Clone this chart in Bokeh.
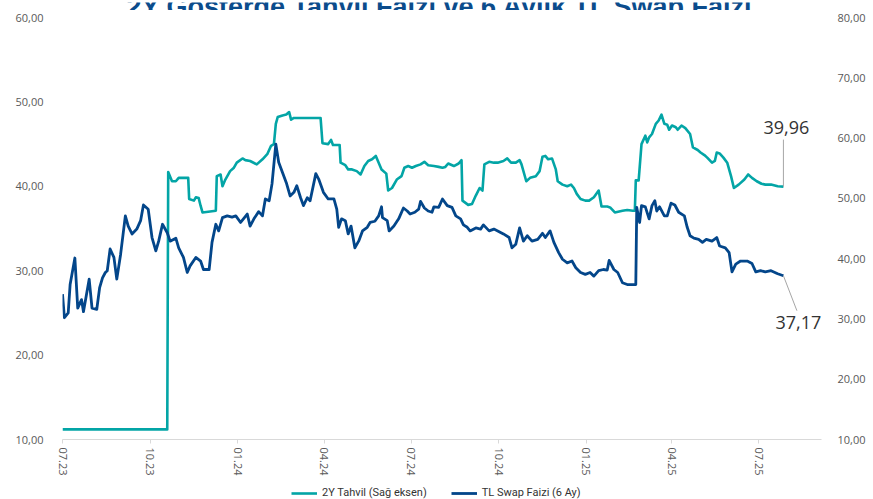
import pandas as pd
from bokeh.plotting import figure
from bokeh.layouts import column
from bokeh.models import (Range1d, LinearAxis, FixedTicker, CustomJSTickFormatter,
                          DatetimeTickFormatter, Label, Legend, LegendItem, ColumnDataSource)
from bokeh.embed import file_html
from bokeh.resources import INLINE

title_text = "2Y Gösterge Tahvil Faizi ve 6 Aylık TL Swap Faizi"
series_names = ["2Y Tahvil (Sağ eksen)", "TL Swap Faizi (6 Ay)"]

tahvil_dates = [
    "2023-07-01", "2023-10-19", "2023-10-20", "2023-10-24", "2023-10-28", "2023-10-31", "2023-11-10",
    "2023-11-11", "2023-11-16", "2023-11-18", "2023-11-21", "2023-11-23", "2023-11-25", "2023-12-09",
    "2023-12-10", "2023-12-14", "2023-12-16", "2023-12-19", "2023-12-24", "2023-12-28", "2023-12-31",
    "2024-01-06", "2024-01-09", "2024-01-14", "2024-01-21", "2024-01-27", "2024-02-01", "2024-02-05",
    "2024-02-08", "2024-02-10", "2024-02-12", "2024-02-17", "2024-02-21", "2024-02-24", "2024-02-26",
    "2024-02-29", "2024-03-28", "2024-03-30", "2024-04-05", "2024-04-08", "2024-04-10", "2024-04-17",
    "2024-04-18", "2024-04-23", "2024-04-26", "2024-04-30", "2024-05-05", "2024-05-09", "2024-05-13",
    "2024-05-17", "2024-05-21", "2024-05-25", "2024-05-28", "2024-05-31", "2024-06-05", "2024-06-07",
    "2024-06-11", "2024-06-16", "2024-06-21", "2024-06-24", "2024-06-28", "2024-07-02", "2024-07-06",
    "2024-07-11", "2024-07-15", "2024-07-19", "2024-07-25", "2024-07-30", "2024-08-03", "2024-08-06",
    "2024-08-09", "2024-08-15", "2024-08-20", "2024-08-23", "2024-08-24", "2024-08-30", "2024-09-03",
    "2024-09-07", "2024-09-11", "2024-09-14", "2024-09-16", "2024-09-21", "2024-09-26", "2024-09-30",
    "2024-10-06", "2024-10-10", "2024-10-14", "2024-10-19", "2024-10-23", "2024-10-25", "2024-10-30",
    "2024-11-03", "2024-11-09", "2024-11-13", "2024-11-16", "2024-11-19", "2024-11-22", "2024-11-26",
    "2024-11-30", "2024-12-02", "2024-12-07", "2024-12-12", "2024-12-16", "2024-12-19", "2024-12-22",
    "2024-12-26", "2024-12-31", "2025-01-04", "2025-01-09", "2025-01-14", "2025-01-17", "2025-01-23",
    "2025-01-26", "2025-01-31", "2025-02-08", "2025-02-13", "2025-02-19", "2025-02-21", "2025-02-22",
    "2025-02-25", "2025-02-28", "2025-03-04", "2025-03-06", "2025-03-08", "2025-03-11", "2025-03-15",
    "2025-03-18", "2025-03-21", "2025-03-24", "2025-03-27", "2025-03-29", "2025-04-01", "2025-04-05",
    "2025-04-07", "2025-04-11", "2025-04-15", "2025-04-20", "2025-04-23", "2025-04-28", "2025-05-01",
    "2025-05-05", "2025-05-08", "2025-05-13", "2025-05-16", "2025-05-18", "2025-05-21", "2025-05-25",
    "2025-05-29", "2025-06-02", "2025-06-05", "2025-06-10", "2025-06-16", "2025-06-20", "2025-06-24",
    "2025-06-29", "2025-07-04", "2025-07-08", "2025-07-14", "2025-07-21", "2025-07-27",
]
tahvil_values = [
    11.2, 11.2, 41.7, 40.6, 40.6, 41.0, 41.0,
    38.5, 38.3, 38.7, 38.6, 37.7, 36.9, 37.1,
    41.2, 41.4, 40.0, 40.8, 41.8, 42.2, 42.8,
    43.3, 43.1, 43.0, 42.6, 43.2, 43.8, 44.8,
    45.0, 47.4, 48.2, 48.4, 48.5, 48.8, 47.9,
    48.1, 48.1, 45.1, 45.0, 45.5, 44.9, 44.9,
    42.8, 42.5, 42.0, 42.0, 41.8, 41.4, 42.4,
    43.0, 43.2, 43.6, 42.8, 42.0, 41.5, 39.5,
    39.8, 40.8, 41.2, 42.2, 42.4, 42.2, 42.4,
    42.6, 42.9, 42.5, 42.4, 42.3, 42.2, 42.3,
    42.7, 42.4, 42.7, 43.1, 38.3, 37.8, 37.9,
    38.9, 39.8, 39.5, 42.6, 42.9, 42.8, 42.8,
    43.0, 43.3, 42.8, 42.8, 43.1, 42.6, 40.6,
    41.0, 41.2, 41.8, 43.5, 43.6, 43.2, 43.3,
    42.0, 40.6, 40.2, 40.0, 40.2, 39.8, 39.1,
    38.5, 38.3, 38.3, 38.7, 39.5, 37.6, 37.6,
    37.5, 36.9, 37.1, 37.2, 37.1, 37.1, 40.7,
    40.7, 45.0, 46.0, 45.2, 45.8, 46.2, 47.4,
    47.8, 48.5, 47.4, 47.3, 46.7, 47.2, 47.0,
    46.7, 47.2, 46.9, 46.2, 44.6, 44.3, 44.0,
    43.7, 43.4, 42.8, 43.0, 44.0, 43.9, 43.4,
    42.8, 41.2, 39.8, 40.2, 40.8, 41.4, 41.0,
    40.6, 40.3, 40.2, 40.2, 40.0, 39.96,
]

swap_dates = [
    "2023-07-01", "2023-07-03", "2023-07-07", "2023-07-09", "2023-07-14", "2023-07-17", "2023-07-21",
    "2023-07-23", "2023-07-29", "2023-08-01", "2023-08-06", "2023-08-09", "2023-08-12", "2023-08-15",
    "2023-08-17", "2023-08-20", "2023-08-24", "2023-08-27", "2023-08-31", "2023-09-05", "2023-09-08",
    "2023-09-12", "2023-09-17", "2023-09-21", "2023-09-24", "2023-09-29", "2023-10-03", "2023-10-07",
    "2023-10-10", "2023-10-14", "2023-10-19", "2023-10-22", "2023-10-28", "2023-10-31", "2023-11-05",
    "2023-11-09", "2023-11-12", "2023-11-18", "2023-11-23", "2023-11-26", "2023-12-02", "2023-12-05",
    "2023-12-09", "2023-12-12", "2023-12-16", "2023-12-21", "2023-12-26", "2023-12-30", "2024-01-04",
    "2024-01-07", "2024-01-11", "2024-01-14", "2024-01-18", "2024-01-23", "2024-01-27", "2024-01-30",
    "2024-02-03", "2024-02-06", "2024-02-10", "2024-02-13", "2024-02-17", "2024-02-21", "2024-02-25",
    "2024-02-29", "2024-03-03", "2024-03-07", "2024-03-10", "2024-03-14", "2024-03-17", "2024-03-23",
    "2024-03-26", "2024-03-31", "2024-04-05", "2024-04-11", "2024-04-14", "2024-04-16", "2024-04-19",
    "2024-04-23", "2024-04-26", "2024-04-29", "2024-05-03", "2024-05-07", "2024-05-11", "2024-05-16",
    "2024-05-19", "2024-05-24", "2024-05-28", "2024-05-31", "2024-06-01", "2024-06-06", "2024-06-08",
    "2024-06-13", "2024-06-18", "2024-06-23", "2024-06-27", "2024-06-30", "2024-07-05", "2024-07-09",
    "2024-07-11", "2024-07-15", "2024-07-19", "2024-07-23", "2024-07-25", "2024-07-30", "2024-08-03",
    "2024-08-08", "2024-08-13", "2024-08-17", "2024-08-22", "2024-08-25", "2024-08-29", "2024-09-01",
    "2024-09-07", "2024-09-12", "2024-09-15", "2024-09-21", "2024-09-26", "2024-09-30", "2024-10-06",
    "2024-10-12", "2024-10-15", "2024-10-19", "2024-10-23", "2024-10-27", "2024-10-31", "2024-11-05",
    "2024-11-11", "2024-11-16", "2024-11-19", "2024-11-24", "2024-11-28", "2024-12-03", "2024-12-07",
    "2024-12-12", "2024-12-17", "2024-12-21", "2024-12-26", "2024-12-31", "2025-01-05", "2025-01-09",
    "2025-01-14", "2025-01-19", "2025-01-23", "2025-01-25", "2025-01-30", "2025-02-03", "2025-02-08",
    "2025-02-13", "2025-02-22", "2025-02-23", "2025-02-26", "2025-02-28", "2025-03-04", "2025-03-08",
    "2025-03-11", "2025-03-14", "2025-03-16", "2025-03-19", "2025-03-24", "2025-03-27", "2025-03-31",
    "2025-04-04", "2025-04-08", "2025-04-14", "2025-04-17", "2025-04-20", "2025-04-24", "2025-04-29",
    "2025-05-03", "2025-05-07", "2025-05-13", "2025-05-18", "2025-05-21", "2025-05-27", "2025-05-31",
    "2025-06-03", "2025-06-07", "2025-06-12", "2025-06-19", "2025-06-24", "2025-06-28", "2025-07-03",
    "2025-07-08", "2025-07-14", "2025-07-21", "2025-07-27",
]
swap_values = [
    34.1, 30.2, 31.0, 35.7, 40.1, 31.8, 33.2,
    31.2, 36.6, 31.8, 31.6, 35.2, 36.8, 37.7,
    38.0, 41.6, 40.2, 36.6, 40.7, 47.1, 45.4,
    44.1, 44.9, 46.3, 48.9, 48.2, 43.5, 41.3,
    42.9, 45.7, 44.3, 42.9, 43.4, 41.8, 40.2,
    37.7, 38.8, 40.2, 39.6, 38.2, 38.2, 42.7,
    45.7, 44.6, 46.8, 47.1, 46.9, 47.1, 46.0,
    46.6, 47.4, 45.4, 46.6, 47.8, 47.1, 49.9,
    49.6, 52.4, 59.0, 56.0, 54.3, 52.6, 50.4,
    51.0, 52.1, 50.1, 48.8, 50.1, 49.6, 54.1,
    53.2, 51.0, 49.9, 49.9, 48.2, 45.2, 46.6,
    46.3, 44.1, 45.4, 41.8, 42.9, 44.6, 45.2,
    46.0, 46.2, 47.1, 48.6, 46.8, 46.3, 44.6,
    45.4, 46.6, 48.4, 47.9, 47.4, 47.7, 48.2,
    49.5, 48.4, 47.9, 47.7, 48.6, 48.5, 49.9,
    48.8, 48.5, 47.1, 46.6, 45.6, 45.2, 44.6,
    45.1, 44.9, 45.6, 44.6, 44.9, 44.6, 44.1,
    43.5, 41.8, 42.4, 45.1, 42.9, 43.8, 42.9,
    43.2, 44.2, 43.5, 44.6, 42.7, 41.0, 39.9,
    39.3, 39.6, 38.5, 37.7, 37.4, 37.7, 37.1,
    38.0, 38.2, 38.1, 39.7, 38.2, 37.7, 36.0,
    35.7, 35.7, 48.5, 46.0, 48.8, 48.6, 46.6,
    48.8, 49.6, 47.9, 48.6, 47.1, 47.1, 49.2,
    48.9, 47.7, 47.1, 45.2, 43.8, 43.4, 43.2,
    42.7, 43.2, 42.9, 43.5, 42.1, 41.8, 41.0,
    37.8, 39.1, 39.6, 39.6, 39.2, 37.8, 38.0,
    37.8, 38.0, 37.5, 37.17,
]

x_tick_dates = ["2023-07-01", "2023-10-01", "2024-01-01", "2024-04-01", "2024-07-01",
                "2024-10-01", "2025-01-01", "2025-04-01", "2025-07-01"]
left_ticks = [10, 20, 30, 40, 50, 60]
right_ticks = [10, 20, 30, 40, 50, 60, 70, 80]

TEAL = "#03A5A6"
NAVY = "#03468A"
TITLE_C = "#0B4C8C"
GREY = "#595959"

W = 873
H_TITLE, H_MAIN, H_LEG = 10, 469, 20
B_LEFT, B_RIGHT, B_TOP, B_BOTTOM = 62, 52, 7, 40
x_start = pd.Timestamp("2023-07-01")
x_end = pd.Timestamp("2025-09-05")


def ms(ts):
    return pd.Timestamp(ts).value / 10**6


def bare_figure(height):
    f = figure(width=W, height=height, output_backend="svg", toolbar_location=None,
               title=None, x_axis_location=None, y_axis_location=None,
               x_range=Range1d(0, 1), y_range=Range1d(0, 1),
               min_border_left=0, min_border_right=0, min_border_top=0, min_border_bottom=0)
    f.outline_line_color = None
    f.xgrid.visible = False
    f.ygrid.visible = False
    f.background_fill_color = "white"
    f.border_fill_color = "white"
    return f


src_t = ColumnDataSource(dict(x=[ms(d) for d in tahvil_dates], y=tahvil_values))
src_s = ColumnDataSource(dict(x=[ms(d) for d in swap_dates], y=swap_values))

# ---------- title strip (the title is cut off at the top, as in the reference)
tf = bare_figure(H_TITLE)
tf.add_layout(Label(x=0.5, y=0, x_offset=-2, y_offset=6, text=title_text,
                    text_align="center", text_baseline="alphabetic",
                    text_font="Liberation Sans", text_font_style="bold",
                    text_font_size="27px", text_color=TITLE_C))

# ---------- main chart
p = figure(width=W, height=H_MAIN, x_axis_type="datetime", output_backend="svg",
           toolbar_location=None, title=None,
           x_range=Range1d(ms(x_start), ms(x_end)), y_range=Range1d(left_ticks[0], left_ticks[-1]),
           min_border_left=B_LEFT, min_border_right=B_RIGHT,
           min_border_top=B_TOP, min_border_bottom=B_BOTTOM)
p.outline_line_color = None
p.xgrid.visible = False
p.ygrid.visible = False
p.background_fill_color = "white"
p.border_fill_color = "white"

p.extra_y_ranges = {"right": Range1d(right_ticks[0], right_ticks[-1])}

ya = p.yaxis[0]
ya.ticker = FixedTicker(ticks=left_ticks)
ya.formatter = CustomJSTickFormatter(code="return tick.toFixed(2).replace('.', ',');")
ya.axis_line_color = None
ya.major_tick_line_color = None
ya.minor_tick_line_color = None
ya.major_label_standoff = 13
ya.major_label_text_font = "Open Sans"
ya.major_label_text_font_size = "11px"
ya.major_label_text_color = GREY

ra = LinearAxis(y_range_name="right", ticker=FixedTicker(ticks=right_ticks),
                formatter=CustomJSTickFormatter(code="return tick.toFixed(2).replace('.', ',');"))
ra.axis_line_color = None
ra.major_tick_line_color = None
ra.minor_tick_line_color = None
ra.major_label_standoff = 10
ra.major_label_text_font = "Open Sans"
ra.major_label_text_font_size = "11px"
ra.major_label_text_color = GREY
p.add_layout(ra, "right")

xa = p.xaxis[0]
xa.ticker = FixedTicker(ticks=[ms(d) for d in x_tick_dates])
xa.formatter = DatetimeTickFormatter(
    milliseconds="%m.%y", seconds="%m.%y", minsec="%m.%y", minutes="%m.%y",
    hourmin="%m.%y", hours="%m.%y", days="%m.%y", months="%m.%y", years="%m.%y")
xa.major_label_orientation = "vertical"
xa.axis_line_color = "#D9D9D9"
xa.major_tick_line_color = "#D9D9D9"
xa.major_tick_out = 4
xa.major_tick_in = 0
xa.minor_tick_line_color = None
xa.major_label_standoff = 4
xa.major_label_text_font = "Open Sans"
xa.major_label_text_font_size = "11px"
xa.major_label_text_color = GREY

r_t = p.line("x", "y", source=src_t, line_color=TEAL, line_width=2.6, line_join="round")
r_s = p.line("x", "y", source=src_s, line_color=NAVY, line_width=2.8, line_join="round",
             y_range_name="right")

# pixel scales for the leader lines of the end labels
frame_w = W - B_LEFT - B_RIGHT
frame_h = H_MAIN - B_TOP - B_BOTTOM
ms_per_px = (ms(x_end) - ms(x_start)) / frame_w
px_left = frame_h / (left_ticks[-1] - left_ticks[0])
px_right = frame_h / (right_ticks[-1] - right_ticks[0])

t_last_x = ms(tahvil_dates[-1])
t_last_y = tahvil_values[-1]
s_last_x = ms(swap_dates[-1])
s_last_y = swap_values[-1]

p.segment(x0=[t_last_x], y0=[t_last_y], x1=[t_last_x], y1=[t_last_y + 47 / px_left],
          line_color="#A6A6A6", line_width=1)
p.segment(x0=[s_last_x], y0=[s_last_y], x1=[s_last_x + 13.5 * ms_per_px],
          y1=[s_last_y - 35 / px_right], line_color="#A6A6A6", line_width=1,
          y_range_name="right")


def fmt_val(v):
    return f"{v:.2f}".replace(".", ",")


p.add_layout(Label(x=t_last_x, y=t_last_y, x_offset=3, y_offset=59, text=fmt_val(t_last_y),
                   text_align="center", text_baseline="middle",
                   text_font="Open Sans", text_font_size="18px", text_color="#333333"))
p.add_layout(Label(x=s_last_x, y=s_last_y, y_range_name="right", x_offset=15, y_offset=-47,
                   text=fmt_val(s_last_y), text_align="center", text_baseline="middle",
                   text_font="Open Sans", text_font_size="18px", text_color="#333333"))

# ---------- legend strip (the series sit far outside its ranges; only the legend shows)
lf = bare_figure(H_LEG)
l_t = lf.line("x", "y", source=src_t, line_color=TEAL, line_width=2.6)
l_s = lf.line("x", "y", source=src_s, line_color=NAVY, line_width=2.8)
legend = Legend(items=[LegendItem(label=series_names[0], renderers=[l_t]),
                       LegendItem(label=series_names[1], renderers=[l_s])],
                orientation="horizontal", location=(229, 0),
                glyph_width=26, glyph_height=12, label_height=12, label_standoff=5,
                spacing=24, padding=0, margin=0,
                border_line_color=None, background_fill_alpha=0,
                label_text_font="Liberation Sans Narrow, Roboto, sans-serif",
                label_text_font_size="11px", label_text_color="#333333")
lf.add_layout(legend)

layout = column(tf, p, lf, spacing=0)
open("out.html", "w").write(file_html(layout, INLINE))
